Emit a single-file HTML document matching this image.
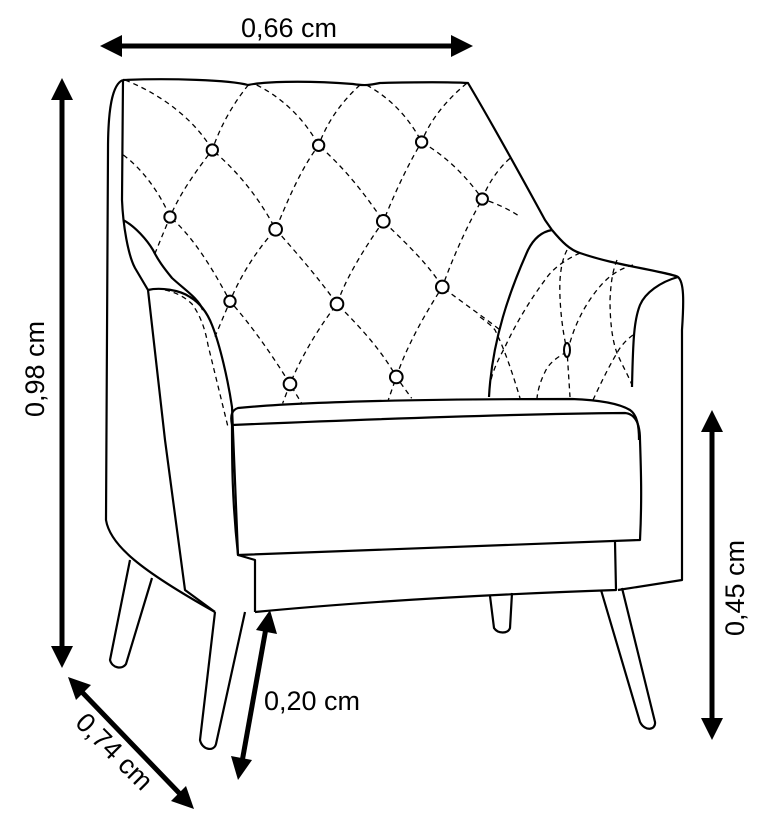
<!DOCTYPE html>
<html><head><style>
html,body{margin:0;padding:0;background:#fff;}
svg{display:block;}
text{font-family:"Liberation Sans",Arial,sans-serif;font-size:27px;fill:#000;}
</style></head><body>
<svg width="760" height="820" viewBox="0 0 760 820" xmlns="http://www.w3.org/2000/svg">
<g fill="#000">
<line x1="115" y1="46" x2="458" y2="46" stroke="#000" stroke-width="5"/>
<polygon points="100,46 122,35 122,57"/><polygon points="473,46 451,35 451,57"/>
<line x1="62" y1="95" x2="62" y2="652" stroke="#000" stroke-width="5"/>
<polygon points="62,78 51,100 73,100"/><polygon points="62,668 51,646 73,646"/>
<line x1="80" y1="690" x2="182" y2="796" stroke="#000" stroke-width="5"/>
<polygon points="68,677 76,700 91,685"/><polygon points="194,809 171,801 186,786"/>
<line x1="266" y1="628" x2="242" y2="762" stroke="#000" stroke-width="5"/>
<polygon points="270,610 256,630 277,634"/><polygon points="238,780 231,756 252,760"/>
<line x1="712" y1="428" x2="712" y2="722" stroke="#000" stroke-width="5"/>
<polygon points="712,410 701,432 723,432"/><polygon points="712,740 701,718 723,718"/>
</g>
<text x="289" y="37" text-anchor="middle">0,66 cm</text>
<text transform="translate(44,369) rotate(-90)" text-anchor="middle">0,98 cm</text>
<text transform="translate(108,758) rotate(45)" text-anchor="middle">0,74 cm</text>
<text x="264" y="710">0,20 cm</text>
<text transform="translate(744,588) rotate(-90)" text-anchor="middle">0,45 cm</text>

<g fill="none" stroke="#000" stroke-width="2.2" stroke-linejoin="round">
<path d="M123,80 C112,84 108,110 108,150 L106,520 C110,545 140,570 215,612"/>
<path d="M123,80 C170,78 230,80 248,85 C262,82 300,80 353,84 C365,86 370,85 380,83 C420,82 450,82 468,83 C490,120 515,165 545,220 L552,230"/>
<path d="M123,80 L122,200 C123,225 128,255 135,268 L148,290"/>
<path d="M123,220 C135,226 147,240 153,250 C158,260 163,267 172,278 C185,290 198,298 203,310"/>
<!-- left arm front panel -->
<path d="M148,290 C160,287 180,290 190,297 C200,303 207,312 212,325 C220,345 228,380 232,407 L238,555 L255,560 L255,612"/>
<path d="M148,290 L165,440 L185,590 L215,612"/>
<!-- right arm -->
<path d="M552,230 C562,242 570,250 580,253 C600,260 620,264 640,268 C660,272 675,275 678,277 C684,282 684,300 682,330 L682,580 L618,590"/>
<path d="M552,230 C540,232 533,240 528,250 C510,290 492,340 489,397"/>
<path d="M678,277 C660,282 645,293 640,305 C634,320 633,340 632,387"/>
<!-- seat -->
<path d="M232,425 C230,415 232,410 238,408 C300,402 420,399 572,399 C600,400 620,404 630,410 C637,415 639,425 639,440"/>
<path d="M232,425 C350,420 500,414 625,413 C636,414 640,425 640,440 C641,470 642,500 640,540 C520,544 400,548 238,555 C232,500 232,460 232,425 Z"/>
<path d="M255,612 C380,600 500,594 616,590 L615,542"/>
<!-- legs -->
<path d="M130,560 L110,660 C112,668 122,670 126,664 L152,578"/>
<path d="M215,612 L200,740 C202,750 214,752 216,744 L245,612"/>
<path d="M490,596 L494,628 C498,634 508,634 510,628 L512,593"/>
<path d="M601,590 L640,722 C645,732 656,730 655,722 L622,588"/>
</g>

<g transform="translate(100,70) scale(0.3333)" fill="none" stroke="#000">
<g stroke-dasharray="5,4" stroke-width="1.3">
<path vector-effect="non-scaling-stroke" d="M75,30 C200,80 290,160 337,240 C420,310 480,390 527,478 C600,560 660,630 711,702 C790,780 850,850 889,921 L935,985"/>
<path vector-effect="non-scaling-stroke" d="M470,45 C560,90 620,160 656,226 C740,300 800,380 850,454 C930,530 990,590 1027,651 C1090,700 1150,740 1200,780"/>
<path vector-effect="non-scaling-stroke" d="M800,45 C880,90 930,150 965,216 C1040,260 1100,320 1147,387 C1190,400 1230,420 1260,440"/>
<path vector-effect="non-scaling-stroke" d="M70,255 C130,300 180,370 210,441 C280,500 340,600 390,694 C450,760 520,860 570,942 L605,1000"/>
<path vector-effect="non-scaling-stroke" d="M1100,40 C1040,90 990,150 965,216 C920,290 880,380 850,454 C790,540 740,620 711,702 C650,780 600,870 570,942 L548,1000"/>
<path vector-effect="non-scaling-stroke" d="M780,45 C720,100 680,160 656,226 C600,300 560,400 527,478 C470,540 420,620 390,694 L345,800"/>
<path vector-effect="non-scaling-stroke" d="M445,45 C400,100 360,170 337,240 C290,300 240,370 210,441 L165,550"/>
<path vector-effect="non-scaling-stroke" d="M1230,265 C1190,300 1160,350 1147,387 C1100,470 1060,560 1027,651 C970,740 920,830 889,921 L865,990"/>
</g>
<g fill="#fff" stroke-width="2">
<circle vector-effect="non-scaling-stroke" cx="337" cy="240" r="17"/>
<circle vector-effect="non-scaling-stroke" cx="656" cy="226" r="17"/>
<circle vector-effect="non-scaling-stroke" cx="965" cy="216" r="17"/>
<circle vector-effect="non-scaling-stroke" cx="1147" cy="387" r="17"/>
<circle vector-effect="non-scaling-stroke" cx="210" cy="441" r="17"/>
<circle vector-effect="non-scaling-stroke" cx="527" cy="478" r="19"/>
<circle vector-effect="non-scaling-stroke" cx="850" cy="454" r="19"/>
<circle vector-effect="non-scaling-stroke" cx="1027" cy="651" r="19"/>
<circle vector-effect="non-scaling-stroke" cx="390" cy="694" r="17"/>
<circle vector-effect="non-scaling-stroke" cx="711" cy="702" r="19"/>
<circle vector-effect="non-scaling-stroke" cx="570" cy="942" r="19"/>
<circle vector-effect="non-scaling-stroke" cx="889" cy="921" r="19"/>
</g>
</g>
<g fill="none" stroke="#000" stroke-width="1.3" stroke-dasharray="5,4">
<!-- left arm dashed -->
<path d="M165,290 C175,292 185,297 192,304 C200,315 205,328 208,345 L228,427"/>
<!-- right arm dashed -->
<path d="M567,250 C563,258 561,266 560,280 C559,300 562,330 567,350 L570,397"/>
<path d="M617,260 C613,270 611,280 610,300 C610,320 612,340 617,353 C622,365 628,375 632,385"/>
<path d="M580,253 C565,260 553,268 545,280 C530,300 515,325 505,347 C498,360 492,372 490,385"/>
<path d="M633,265 C615,270 605,280 597,290 C585,305 574,325 568,350"/>
<path d="M480,317 C487,322 492,326 495,330 C505,350 513,375 520,398"/>
<path d="M567,352 C555,358 548,365 545,372 C540,382 538,390 537,398"/>
<path d="M633,335 C626,340 620,347 617,353 C608,368 600,385 593,400"/>
</g>
<ellipse cx="567" cy="350" rx="3" ry="7" fill="#fff" stroke="#000" stroke-width="2"/>
</svg>
</body></html>
